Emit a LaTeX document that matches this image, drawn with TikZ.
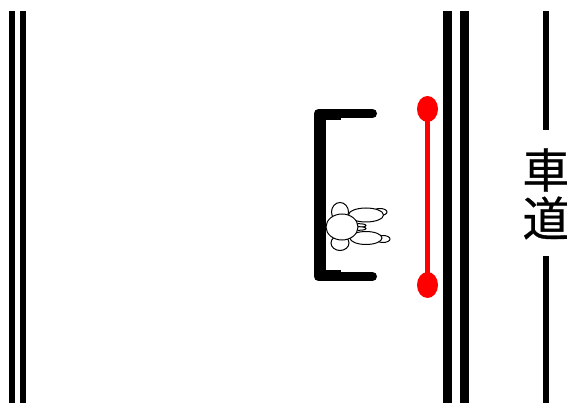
\documentclass[tikz,border=0pt]{standalone}
\usepackage{fontspec}
\usetikzlibrary{shapes.geometric}
\newfontfamily\cjk[FakeBold=0.6]{Noto Sans CJK JP}
\tikzset{
  wall/.style={line width=#1, line cap=butt, draw=black},
  body/.style={draw=black, fill=white, line width=1pt},
  roadlabel/.style={font=\cjk\fontsize{47}{47}\selectfont, inner sep=0pt, anchor=center},
  knob/.style={fill=red, draw=none, ellipse, minimum width=21pt, minimum height=26pt, inner sep=0pt}
}
\begin{document}
\begin{tikzpicture}[x=1pt,y=-1pt]
\useasboundingbox (0,0) rectangle (567,403);
\clip (0,0) rectangle (567,403);
\fill[white] (0,0) rectangle (567,403);
% left double line
\draw[wall=6pt] (12,11) -- (12,403);
\draw[wall=6pt] (23,11) -- (23,403);
% right double line
\draw[wall=9pt] (447.5,11) -- (447.5,403);
\draw[wall=9pt] (464.5,11) -- (464.5,403);
% centre line
\draw[wall=6pt] (546,11) -- (546,130);
\draw[wall=6pt] (546,256) -- (546,403);
% road label
\node[roadlabel] (kuruma) at (546,170) {車};
\node[roadlabel] (michi) at (546,218) {道};
% bracket
\draw[black, line width=9pt, line join=round, line cap=round] (372.5,113.5) -- (318.5,113.5) -- (318.5,276.5) -- (372.5,276.5);
\fill[black] (314,113) rectangle (326,277);
\fill[black] (318,109) rectangle (341,120);
\fill[black] (318,270) rectangle (341,281);
% red bar
\node[knob] (knobA) at (427.5,109) {};
\node[knob] (knobB) at (427.5,285) {};
\draw[red, line width=5pt] (knobA.center) -- (knobB.center);
% person
\draw[body] (380,212) ellipse [x radius=7, y radius=3.5];
\draw[body] (383,239) ellipse [x radius=7, y radius=3.5];
\draw[body] (366,215) ellipse [x radius=17.5, y radius=7];
\draw[body] (366,238) ellipse [x radius=16, y radius=6.5];
\draw[body] (359,225.5) ellipse [x radius=7, y radius=1.8];
\draw[body] (359,228.5) ellipse [x radius=7, y radius=1.8];
\draw[body] (340,212) ellipse [x radius=8.5, y radius=9.5];
\draw[body] (340,243) ellipse [x radius=9, y radius=7.5];
\draw[body] (342,227) ellipse [x radius=16, y radius=13];
\end{tikzpicture}
\end{document}
